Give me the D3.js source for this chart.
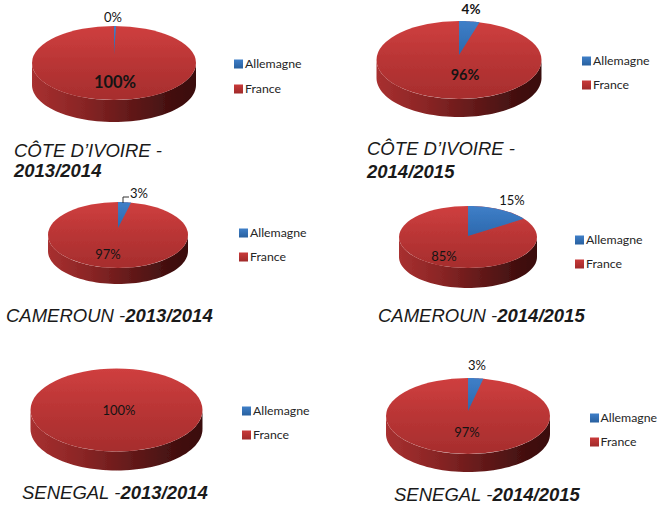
<!DOCTYPE html>
<html><head><meta charset="utf-8">
<script src="https://cdn.jsdelivr.net/npm/d3@7"></script>
<style>html,body{margin:0;padding:0;background:#fff}svg{display:block}</style>
</head><body><svg id="c" width="658" height="508"></svg>
<script>
const seriesNames = ["Allemagne", "France"];
const countries = ["CÔTE D’IVOIRE", "CÔTE D’IVOIRE", "CAMEROUN", "CAMEROUN", "SENEGAL", "SENEGAL"];
const seasons = ["2013/2014", "2014/2015", "2013/2014", "2014/2015", "2013/2014", "2014/2015"];
const allemagne = [0.4, 4, 3, 15, 0, 3];
const france = [99.6, 96, 97, 85, 100, 97];

// Layout of each panel, kept apart from the data
const panels = [
  {cx:114, cy:63,  rx:82,   ry:37, depth:22, apex:-8, blue:[113,17,13,400],  red:[115,82,16.5,700], leg:[234,64,89,245],  title:[14,157,14,177]},
  {cx:459, cy:60,  rx:82.5, ry:39, depth:18, apex:-5, blue:[471,9,13.5,700],   red:[465,75,14.5,700], leg:[582,61,85,593],  title:[367,155,367,178]},
  {cx:118, cy:235, rx:70,   ry:33, depth:16, apex:-7, blue:[139,193,13,400], red:[108,254,13,400],leg:[239,233,257,250],title:[6,322]},
  {cx:468, cy:237, rx:69,   ry:31, depth:20, apex:-1, blue:[512,200,13,400], red:[444,256,13,400],leg:[575,240,264,586],title:[378,322]},
  {cx:116.5,cy:410,rx:86,   ry:41.5,depth:19,apex:0,  blue:null,             red:[119,410,13,400],leg:[242,411,435,253],title:[22,499]},
  {cx:468, cy:416, rx:82,   ry:38, depth:18, apex:-5, blue:[477,365,13,400], red:[467,432,13,400],leg:[590,418,442,600.5],title:[394,501]}
];

const svg = d3.select("#c");
const defs = svg.append("defs");
const soft = defs.append("filter").attr("id","soft").attr("x","-5%").attr("y","-5%").attr("width","110%").attr("height","110%");
soft.append("feGaussianBlur").attr("stdDeviation",0.45);
function grad(id,x2,y2,stops){
  const g = defs.append("linearGradient").attr("id",id).attr("x1",0).attr("y1",0).attr("x2",x2).attr("y2",y2);
  stops.forEach(s=>g.append("stop").attr("offset",s[0]).attr("stop-color",s[1]));
}
grad("topRed",0,1,[[0,"#cf3f3f"],[0.45,"#bb3636"],[1,"#a62d2d"]]);
grad("topBlue",0,1,[[0,"#3f7fc8"],[1,"#2c68ad"]]);
grad("side",1,0,[[0,"#a83030"],[0.3,"#8a2525"],[0.6,"#621919"],[0.85,"#431010"],[1,"#3a0e0e"]]);
grad("swBlue",0,1,[[0,"#3f7fc8"],[1,"#28609f"]]);
grad("swRed",0,1,[[0,"#c93a3a"],[1,"#a02a2a"]]);

const pie = d3.pie().sort(null);
const font = "Lato, 'Open Sans', sans-serif";
const titleFont = "'Liberation Sans', Arial, sans-serif";

panels.forEach((p,i)=>{
  const g = svg.append("g");
  const x = d3.scaleLinear().domain([-1,1]).range([p.cx-p.rx,p.cx+p.rx]);
  const y = d3.scaleLinear().domain([-1,1]).range([p.cy-p.ry,p.cy+p.ry]);
  const pt = a => [x(Math.sin(a)), y(-Math.cos(a))];
  const marks = g.append("g").attr("filter","url(#soft)");

  // extruded rim: the front half of the ellipse, dropped by the depth
  const front = d3.range(90,271,3).map(d=>d*Math.PI/180);
  marks.append("path")
    .attr("d", d3.area().x(a=>pt(a)[0]).y0(a=>pt(a)[1]).y1(a=>pt(a)[1]+p.depth)(front))
    .attr("fill","url(#side)");

  const slices = pie([allemagne[i], france[i]]);
  marks.append("ellipse").attr("cx",p.cx).attr("cy",p.cy).attr("rx",p.rx).attr("ry",p.ry).attr("fill","url(#topRed)");
  if (slices[0].value > 0) {
    const s = slices[0];
    const n = 16;
    const arcPts = d3.range(n+1).map(k=>pt(s.startAngle+(s.endAngle-s.startAngle)*k/n));
    marks.append("path")
      .attr("d", d3.line()([[p.cx,p.cy+p.apex],...arcPts])+"Z")
      .attr("fill","url(#topBlue)");
  }

  // value labels
  const fmt = v => d3.format(".0f")(v)+"%";
  const label = (spec,v)=>g.append("text").attr("x",spec[0]).attr("y",spec[1]).attr("dy","0.35em")
    .attr("text-anchor","middle").attr("font-family",font).attr("font-size",spec[2]).attr("font-weight",spec[3])
    .attr("fill","#141414").text(fmt(v));
  if (p.blue) label(p.blue, allemagne[i]);
  label(p.red, france[i]);
  if (i===2) {
    g.append("path").attr("d",d3.line()([[123,203],[123,197],[129,197]])).attr("fill","none").attr("stroke","#333").attr("stroke-width",1);
  }

  // legend
  seriesNames.forEach((name,k)=>{
    const ly = p.leg[1+k];
    g.append("rect").attr("x",p.leg[0]).attr("y",ly-4.5).attr("width",9).attr("height",9)
      .attr("fill",k===0?"url(#swBlue)":"url(#swRed)");
    g.append("text").attr("x",p.leg[3]).attr("y",ly).attr("dy","0.35em")
      .attr("font-family",font).attr("font-size",12.3).attr("fill","#262626").text(name);
  });

  // title
  const t = g.append("text").attr("font-family",titleFont).attr("font-style","italic").attr("font-size",18.5).attr("fill","#1a1a1a");
  if (p.title.length===4) {
    t.append("tspan").attr("x",p.title[0]).attr("y",p.title[1]).text(countries[i]+" -");
    t.append("tspan").attr("x",p.title[2]).attr("y",p.title[3]).attr("font-weight",700).text(seasons[i]);
  } else {
    t.attr("x",p.title[0]).attr("y",p.title[1]);
    t.append("tspan").text(countries[i]+" -");
    t.append("tspan").attr("font-weight",700).text(seasons[i]);
  }
});
</script></body></html>
